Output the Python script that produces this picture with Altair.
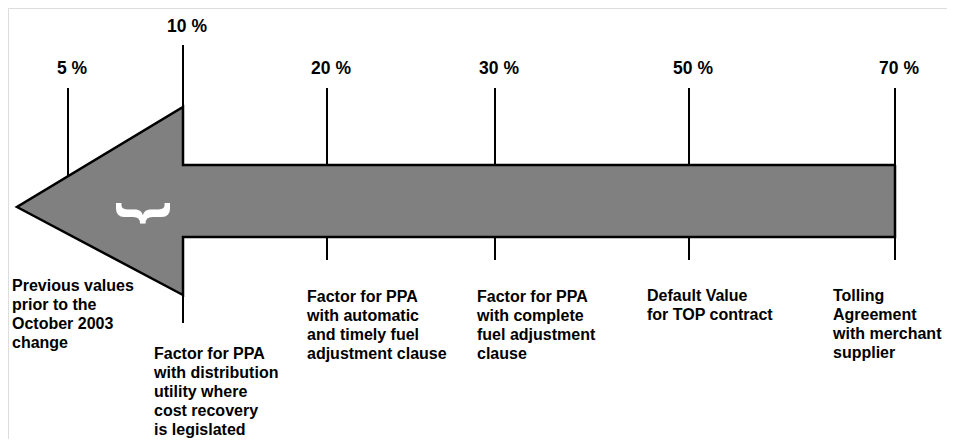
import altair as alt
import pandas as pd

# Schematic positions (plot-area units, left to right) of the six reference points
pct_labels = ["5 %", "10 %", "20 %", "30 %", "50 %", "70 %"]
tick_pos = [60, 175, 319, 487, 681, 887]
tick_top = [80, 37, 80, 80, 80, 80]
tick_bottom = [195, 315, 252, 252, 252, 252]
label_y = [66, 24, 66, 66, 66, 66]

# Arrow: head triangle, shaft, outline
head_x = [9, 175]
head_top = [199, 99]
head_bottom = [199, 287]
shaft_x = [174]
shaft_x2 = [887]
shaft_top = [157]
shaft_bottom = [229]
outline_x = [887, 175, 175, 9, 175, 175, 887, 887]
outline_y = [157, 157, 99, 199, 287, 229, 229, 157]

# Description blocks below the arrow
desc_lines = [
    ["Previous values", "prior to the", "October 2003", "change"],
    ["Factor for PPA", "with distribution", "utility where", "cost recovery", "is legislated"],
    ["Factor for PPA", "with automatic", "and timely fuel", "adjustment clause"],
    ["Factor for PPA", "with complete", "fuel adjustment", "clause"],
    ["Default Value", "for TOP contract"],
    ["Tolling", "Agreement", "with merchant", "supplier"],
]
desc_x = [4, 146, 299, 469, 639, 825]
desc_y = [283, 351, 294, 294, 293, 293]

brace_x = [137]
brace_y = [205]

W, H = 939, 431
xs = alt.Scale(domain=[0, W], nice=False)
ys = alt.Scale(domain=[0, H], reverse=True, nice=False)
FONT = "Liberation Sans"
GRAY = "#808080"

X = lambda f: alt.X(f, scale=xs, axis=None)
Y = lambda f: alt.Y(f, scale=ys, axis=None)

ticks = pd.DataFrame({"x": tick_pos, "y": tick_top, "y2": tick_bottom,
                      "label": pct_labels, "ly": label_y})
ticks["lx"] = ticks["x"] + 4

head = pd.DataFrame({"x": head_x, "y": head_top, "y2": head_bottom})
shaft = pd.DataFrame({"x": shaft_x, "x2": shaft_x2, "y": shaft_top, "y2": shaft_bottom})
outline = pd.DataFrame({"i": list(range(len(outline_x))), "x": outline_x, "y": outline_y})

desc = pd.DataFrame({"x": desc_x, "y": desc_y,
                     "t": ["\n".join(l) for l in desc_lines]})
brace = pd.DataFrame({"x": brace_x, "y": brace_y, "t": ["}"]})

rules = alt.Chart(ticks).mark_rule(color="black", strokeWidth=2).encode(
    x=X("x:Q"), y=Y("y:Q"), y2="y2:Q",
)

head_mark = alt.Chart(head).mark_area(color=GRAY, opacity=1).encode(
    x=X("x:Q"), y=Y("y:Q"), y2="y2:Q",
)

shaft_mark = alt.Chart(shaft).mark_rect(color=GRAY, opacity=1).encode(
    x=X("x:Q"), x2="x2:Q", y=Y("y:Q"), y2="y2:Q",
)

outline_mark = alt.Chart(outline).mark_line(
    color="black", strokeWidth=2.5, strokeJoin="miter"
).encode(
    x=X("x:Q"), y=Y("y:Q"), order=alt.Order("i:Q"),
)

brace_mark = alt.Chart(brace).mark_text(
    font=FONT, fontSize=58, fontWeight="bold", color="white", angle=90,
    align="center", baseline="middle"
).encode(
    x=X("x:Q"), y=Y("y:Q"), text="t:N",
)

pct = alt.Chart(ticks).mark_text(
    font=FONT, fontSize=17.5, fontWeight="bold", color="black",
    align="center", baseline="alphabetic"
).encode(
    x=X("lx:Q"), y=Y("ly:Q"), text="label:N",
)

desc_mark = alt.Chart(desc).mark_text(
    font=FONT, fontSize=16, fontWeight="bold", color="black",
    align="left", baseline="alphabetic", lineBreak="\n", lineHeight=19
).encode(
    x=X("x:Q"), y=Y("y:Q"), text="t:N",
)

chart = alt.layer(rules, head_mark, shaft_mark, outline_mark, brace_mark, pct, desc_mark).properties(
    width=W, height=H, padding=0, autosize=alt.AutoSizeParams(type="none")
).configure_view(strokeWidth=0).configure(background="white")

chart.save("out.html", embed_options={"renderer": "svg", "actions": False})
